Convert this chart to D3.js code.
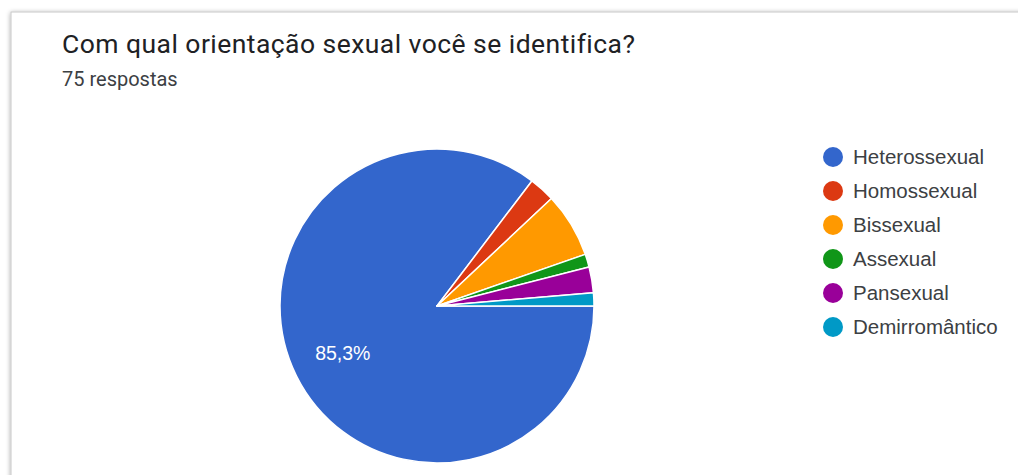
<!DOCTYPE html>
<html>
<head>
<meta charset="utf-8">
<script src="https://cdn.jsdelivr.net/npm/d3@7"></script>
<style>
  html, body { margin: 0; padding: 0; background: #ffffff; }
  svg { display: block; font-family: Roboto, Arial, sans-serif; }
</style>
</head>
<body>
<svg id="chart" width="1018" height="475"></svg>
<script>
// Survey answers (75 responses)
const categories = ["Heterossexual", "Homossexual", "Bissexual", "Assexual", "Pansexual", "Demirromântico"];
const counts = [64, 2, 5, 1, 2, 1];
const colors = ["#3366cc", "#dc3912", "#ff9900", "#109618", "#990099", "#0099c6"];
const title = "Com qual orientação sexual você se identifica?";
const subtitle = "75 respostas";

const svg = d3.select("#chart");

// Card outline with soft shadow
const defs = svg.append("defs");
const f = defs.append("filter").attr("id", "shadow").attr("x", "-5%").attr("y", "-5%").attr("width", "110%").attr("height", "110%");
f.append("feGaussianBlur").attr("in", "SourceAlpha").attr("stdDeviation", 2.5);
f.append("feOffset").attr("dx", 0).attr("dy", 1).attr("result", "b");
f.append("feComponentTransfer").append("feFuncA").attr("type", "linear").attr("slope", 0.35);
const m = f.append("feMerge");
m.append("feMergeNode");
m.append("feMergeNode").attr("in", "SourceGraphic");

svg.append("rect")
  .attr("x", 11).attr("y", 12).attr("width", 1030).attr("height", 500)
  .attr("fill", "#fff").attr("stroke", "#c8c8c8").attr("stroke-width", 1)
  .attr("filter", "url(#shadow)");

svg.append("text").attr("x", 62).attr("y", 53)
  .attr("font-size", 26.5).attr("letter-spacing", 0.45).attr("fill", "#202124").text(title);
svg.append("text").attr("x", 62).attr("y", 86)
  .attr("font-size", 20).attr("fill", "#3c4043").text(subtitle);

// Pie
const cx = 437, cy = 306, r = 157;
const total = d3.sum(counts);
const data = categories.map((c, i) => ({ name: c, value: counts[i], color: colors[i] }));
const pie = d3.pie().value(d => d.value).sort(null)
  .startAngle(Math.PI / 2).endAngle(Math.PI / 2 + 2 * Math.PI);
const arcs = pie(data);
const arc = d3.arc().innerRadius(0).outerRadius(r);

const g = svg.append("g").attr("transform", `translate(${cx},${cy})`);
g.selectAll("path").data(arcs).join("path")
  .attr("d", arc)
  .attr("fill", d => d.data.color)
  .attr("stroke", "#ffffff").attr("stroke-width", 1.5).attr("stroke-linejoin", "round");

// Percentage label on slices large enough to hold one
const fmt = v => (v * 100).toFixed(1).replace(".", ",") + "%";
const labelArc = d3.arc().innerRadius(r * 0.67).outerRadius(r * 0.67);
g.selectAll("text.pct").data(arcs.filter(d => d.data.value / total > 0.1)).join("text")
  .attr("class", "pct")
  .attr("transform", d => `translate(${labelArc.centroid(d)})`)
  .attr("text-anchor", "middle").attr("dy", "0.35em")
  .attr("font-family", "'Liberation Sans', Arial, sans-serif")
  .attr("font-size", 19.5).attr("fill", "#ffffff")
  .text(d => fmt(d.data.value / total));

// Legend
const legend = svg.append("g").attr("transform", "translate(833,157)");
const rows = legend.selectAll("g").data(data).join("g")
  .attr("transform", (d, i) => `translate(0,${i * 34})`);
rows.append("circle").attr("r", 10).attr("fill", d => d.color);
rows.append("text").attr("x", 20).attr("dy", "0.36em")
  .attr("font-family", "'Liberation Sans', Arial, sans-serif")
  .attr("font-size", 20.5).attr("fill", "#3c4043").text(d => d.name);
</script>
</body>
</html>
